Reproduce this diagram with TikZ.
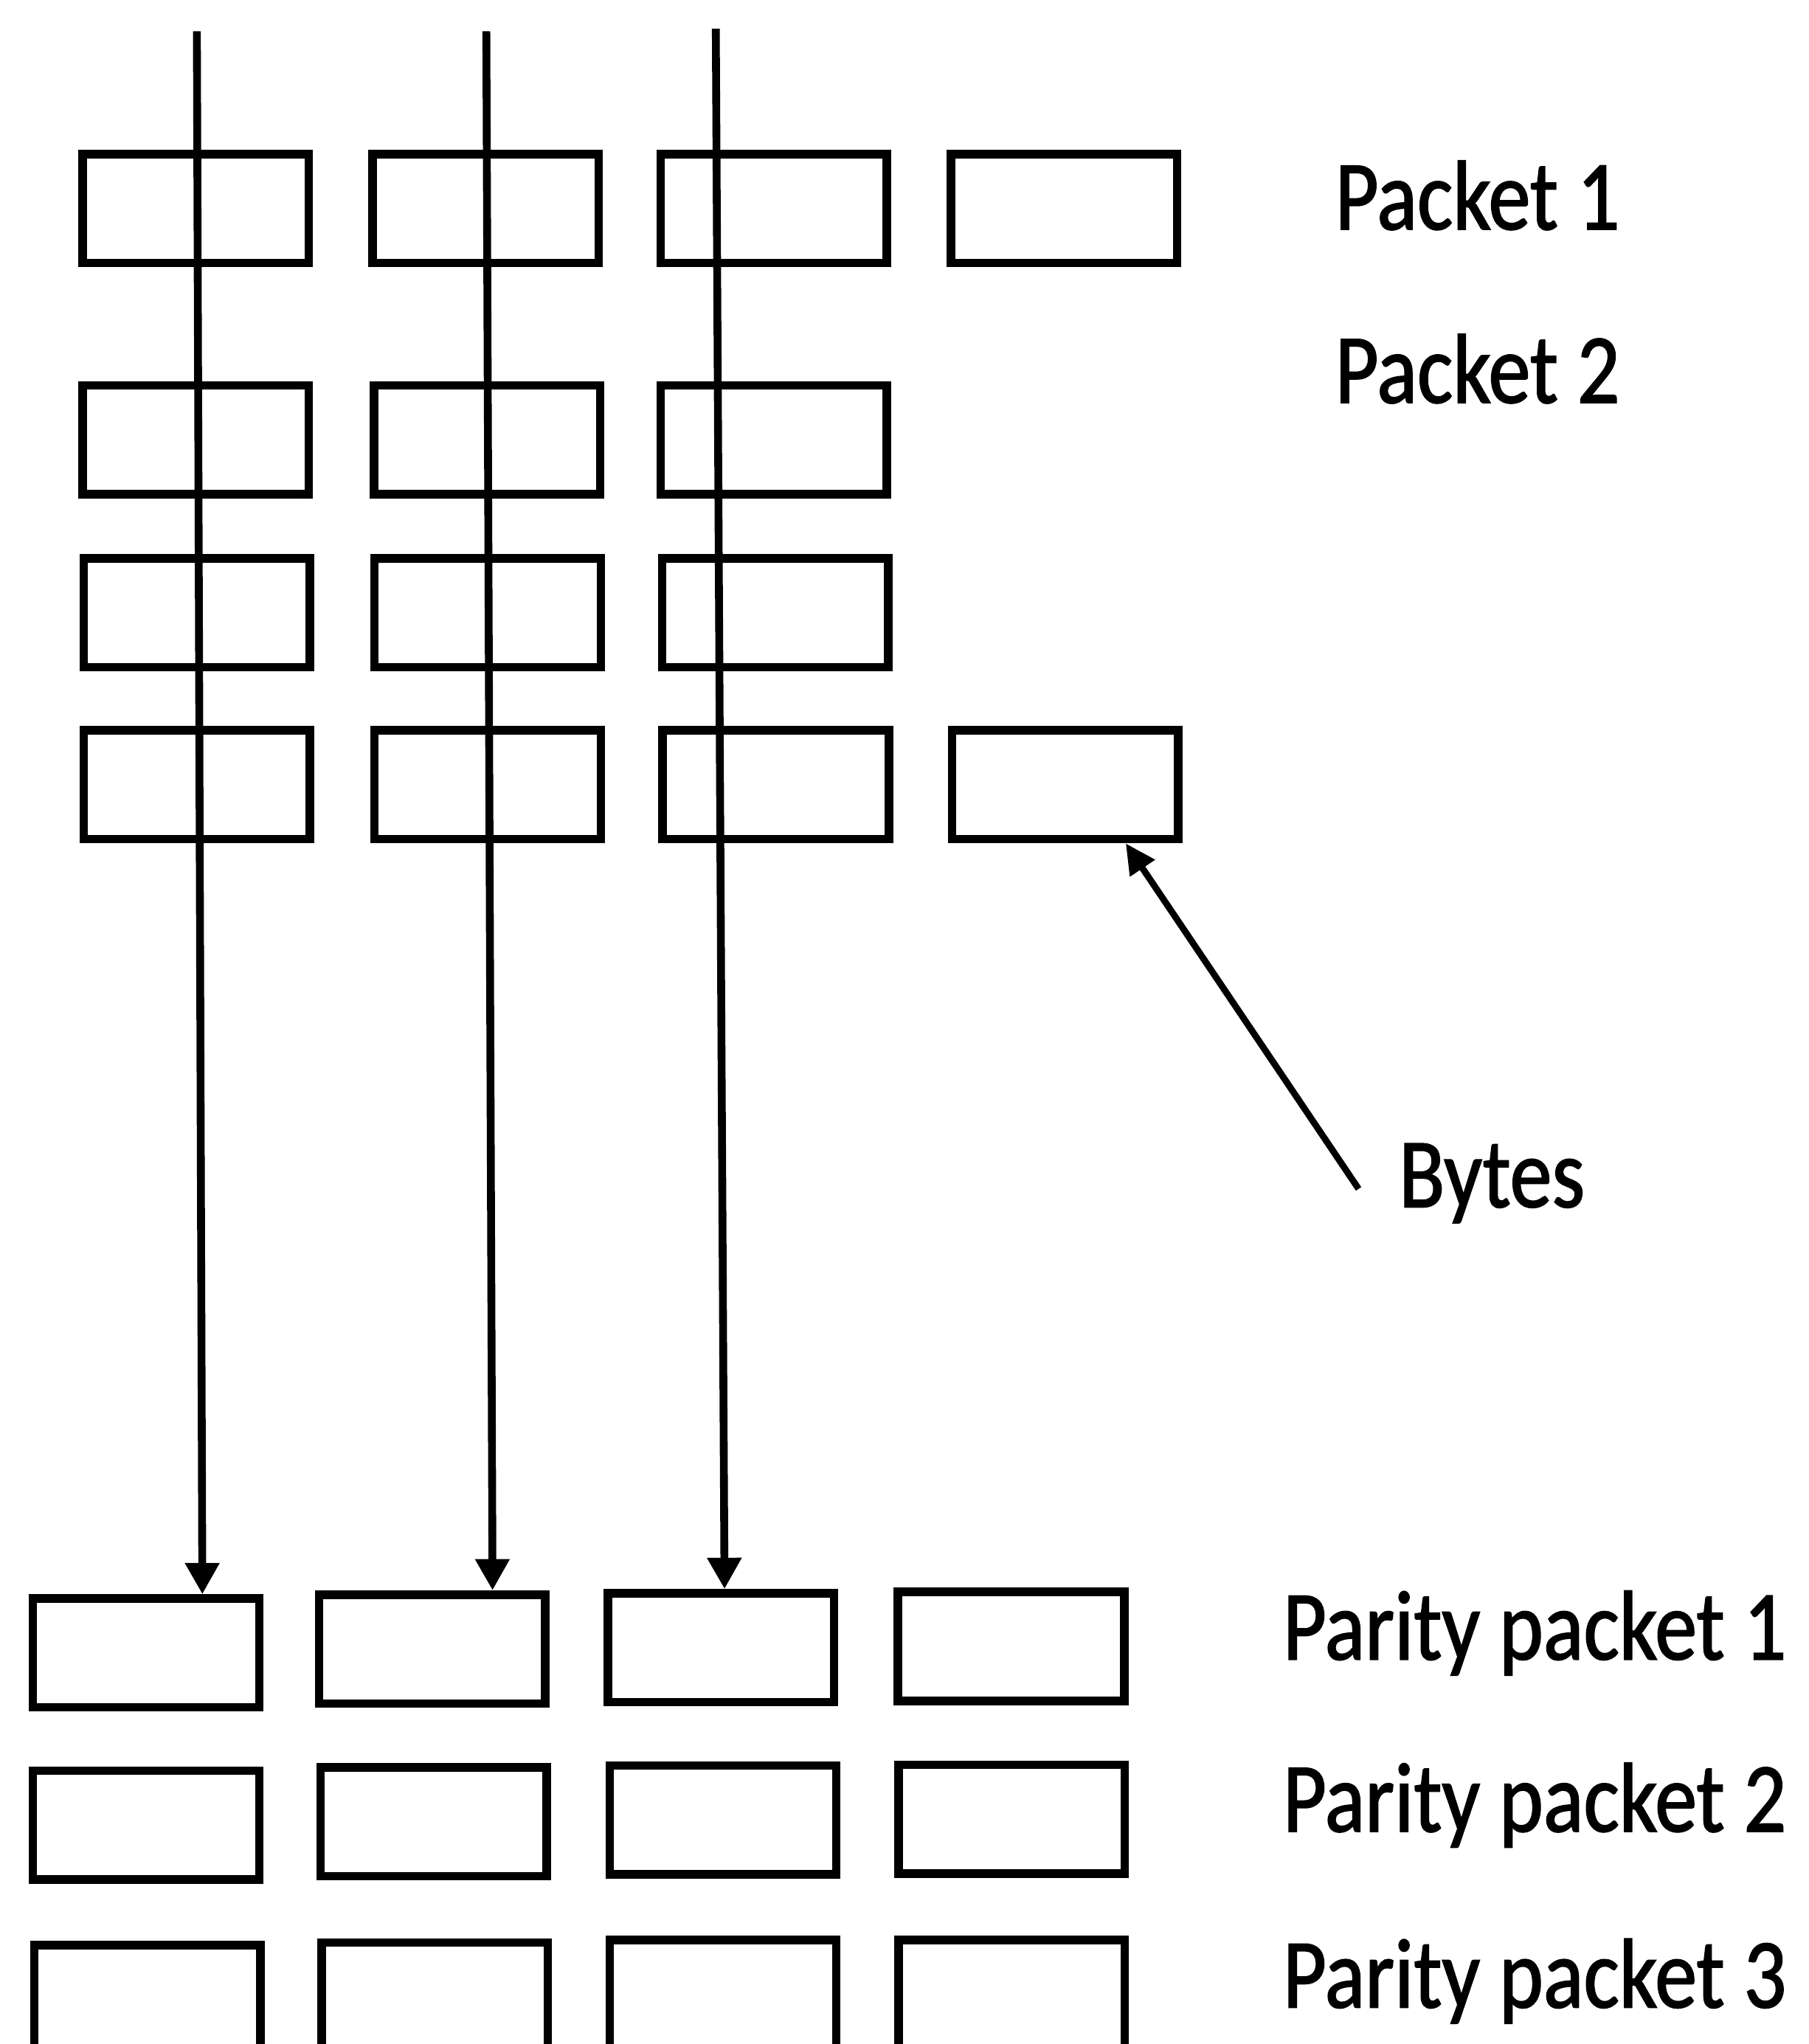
\documentclass[tikz,border=0pt]{standalone}
\usepackage{fontspec}
\setmainfont{Carlito}[FakeStretch=0.85,FakeBold=1.3]
\usetikzlibrary{arrows.meta,calc}
\begin{document}
\begin{tikzpicture}[x=0.2pt,y=-0.2pt]
\tikzset{
  byte/.style={draw, rectangle, line width=1.3pt, minimum width=34.7pt,
               minimum height=16.7pt, inner sep=0pt},
  flow/.style={line width=1.2pt, -{Triangle[width=5pt,length=4.8pt]}},
  pointer/.style={line width=1pt, -{Triangle[width=4.4pt,length=4.6pt]}},
  lbl/.style={anchor=base west, inner sep=0pt, font=\fontsize{15.2}{18}\selectfont}
}
\useasboundingbox (0,0) rectangle (1387,1568);
\clip (0,0) rectangle (1387,1568);

% data packets, one row of bytes each
\node[byte] (a1) at (150,160) {};
\node[byte] (a2) at (372.5,160) {};
\node[byte] (a3) at (593.5,160) {};
\node[byte] (a4) at (816,160) {};

\node[byte] (b1) at (150,337.5) {};
\node[byte] (b2) at (373.5,337.5) {};
\node[byte] (b3) at (593.5,337.5) {};

\node[byte] (c1) at (151,470) {};
\node[byte] (c2) at (374,470) {};
\node[byte] (c3) at (594.5,470) {};

\node[byte] (d1) at (151,602) {};
\node[byte] (d2) at (374,602) {};
\node[byte] (d3) at (595,602) {};
\node[byte] (d4) at (817,602) {};

% parity packets
\node[byte] (pa1) at (112,1268) {};
\node[byte] (pa2) at (331.5,1265) {};
\node[byte] (pa3) at (553,1264) {};
\node[byte] (pa4) at (775.5,1263) {};

\node[byte] (pb1) at (112,1400) {};
\node[byte] (pb2) at (332.5,1397.5) {};
\node[byte] (pb3) at (554.5,1396) {};
\node[byte] (pb4) at (776,1395.6) {};

\node[byte] (pc1) at (113,1534) {};
\node[byte] (pc2) at (333.5,1532) {};
\node[byte] (pc3) at (554.5,1530) {};
\node[byte] (pc4) at (776,1530) {};

% column-wise parity computation
\coordinate (t1) at (151,24);
\coordinate (t2) at (373,24);
\coordinate (t3) at (549,22);
\draw[flow] (t1) -- ($(pa1.north west)!0.74!(pa1.north east)$);
\draw[flow] (t2) -- ($(pa2.north west)!0.757!(pa2.north east)$);
\draw[flow] (t3) -- ($(pa3.north west)!0.515!(pa3.north east)$);

% labels
\node[lbl] (l1) at (1023,176) {Packet 1};
\node[lbl] (l2) at (1023,309) {Packet 2};
\node[lbl] (bytes) at (1072,926) {Bytes};
\node[lbl] (q1) at (983,1273) {Parity packet 1};
\node[lbl] (q2) at (983,1405) {Parity packet 2};
\node[lbl] (q3) at (983,1540) {Parity packet 3};

\coordinate (btail) at (1042,912);
\draw[pointer] (btail) -- ($(d4.south west)!0.758!(d4.south east)$);
\end{tikzpicture}
\end{document}
